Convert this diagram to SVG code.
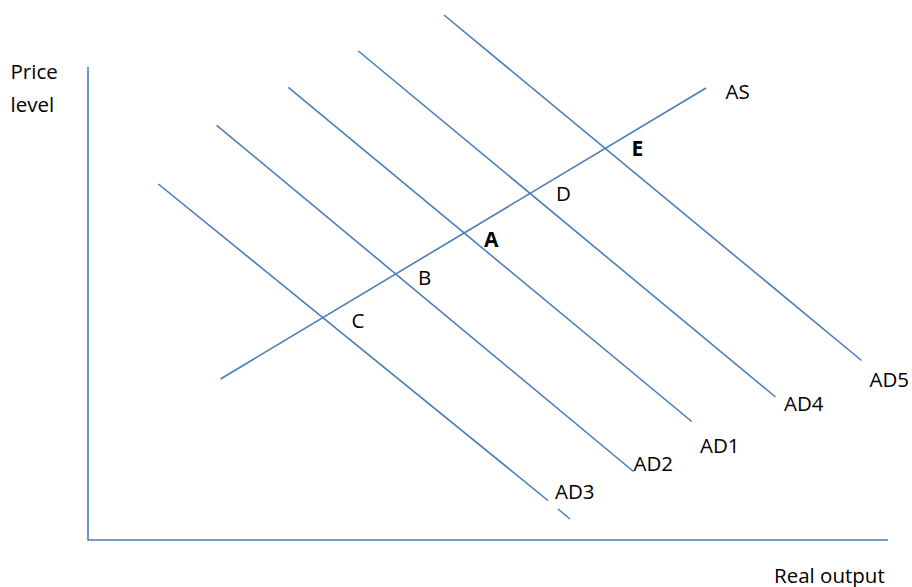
<svg xmlns="http://www.w3.org/2000/svg" width="912" height="587" viewBox="0 0 912 587">
  <style>
    .ln { stroke: #4a7ebb; stroke-width: 1.6; fill: none; }
    .t { font-family: "Open Sans", "Liberation Sans", sans-serif; font-size: 20.5px; fill: #000; }
    .b { font-weight: bold; font-size: 21px; }
  </style>
  <rect width="912" height="587" fill="#fff"/>
  <g id="axes">
    <path class="ln" d="M88,67 V540 H888"/>
    <text class="t" x="10.5" y="79">Price</text>
    <text class="t" x="10.5" y="112">level</text>
    <text class="t" x="774" y="582.5">Real output</text>
  </g>
  <g id="curves">
    <g id="AS">
      <path class="ln" d="M220.5,379 L706,88"/>
      <text class="t" x="725.5" y="99">AS</text>
    </g>
    <g id="AD5">
      <path class="ln" d="M444,15 L861.5,360.5"/>
      <text class="t" x="869.5" y="387">AD5</text>
    </g>
    <g id="AD4">
      <path class="ln" d="M358.3,51 L775.5,397"/>
      <text class="t" x="784" y="411">AD4</text>
    </g>
    <g id="AD1">
      <path class="ln" d="M288.3,87.3 L691.7,421.5"/>
      <text class="t" x="700" y="452.5">AD1</text>
    </g>
    <g id="AD2">
      <path class="ln" d="M216.7,125.3 L633.5,471.5"/>
      <text class="t" x="633.5" y="470.5">AD2</text>
    </g>
    <g id="AD3">
      <path class="ln" d="M158.3,184 L548,500.5 M558,509 L570,519"/>
      <text class="t" x="555" y="498.5">AD3</text>
    </g>
  </g>
  <g id="points">
    <text class="t b" x="484" y="247">A</text>
    <text class="t" x="418" y="284.5">B</text>
    <text class="t" x="351.5" y="327.5">C</text>
    <text class="t" x="556" y="201">D</text>
    <text class="t b" x="631.5" y="156">E</text>
  </g>
</svg>
